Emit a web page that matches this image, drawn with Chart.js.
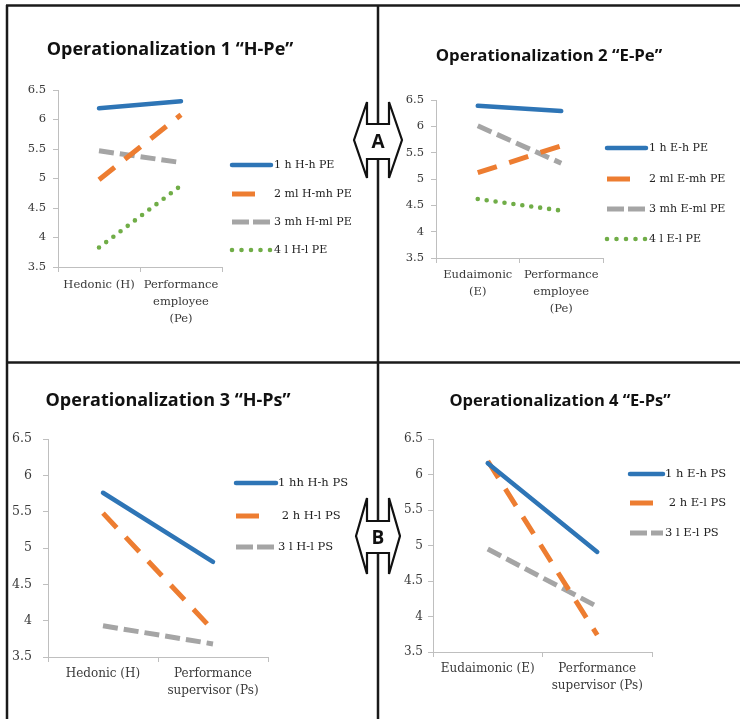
<!DOCTYPE html>
<html><head><meta charset="utf-8">
<script src="https://cdn.jsdelivr.net/npm/chart.js@4.4.1/dist/chart.umd.min.js"></script>
<style>
html,body{margin:0;padding:0;background:#fff;}
#wrap{position:relative;width:740px;height:719px;overflow:hidden;background:#fff;}
canvas{position:absolute;}
svg{position:absolute;left:0;top:0;}
</style></head><body>
<div id="wrap">
<canvas id="c1" width="378" height="362" style="left:0;top:0"></canvas>
<canvas id="c2" width="361" height="362" style="left:379px;top:0"></canvas>
<canvas id="c3" width="378" height="356" style="left:0;top:363px"></canvas>
<canvas id="c4" width="361" height="356" style="left:379px;top:363px"></canvas>
<svg width="740" height="719" xmlns="http://www.w3.org/2000/svg">
  <g stroke="#1a1a1a" stroke-width="2.5" fill="none">
    <line x1="6" y1="5.5" x2="740" y2="5.5"/>
    <line x1="7" y1="5" x2="7" y2="719"/>
    <line x1="378" y1="5" x2="378" y2="719"/>
    <line x1="6" y1="362.5" x2="740" y2="362.5"/>
  </g>
  <g stroke="#111" stroke-width="2.2" fill="#fff" stroke-linejoin="miter">
    <path d="M354,140 L367,102 L367,124 L389,124 L389,102 L402,140 L389,178 L389,159 L367,159 L367,178 Z"/>
    <path d="M356,536 L367,498 L367,521 L389,521 L389,498 L400,536 L389,574 L389,553 L367,553 L367,574 Z"/>
  </g>
  <g font-family="Open Sans, sans-serif" font-weight="bold" font-size="19" fill="#111" text-anchor="middle">
    <text x="378" y="148">A</text>
    <text x="378" y="544">B</text>
  </g>
</svg>
</div>
<script>
// ---------- DATA ----------
const cats1 = ['Hedonic (H)', ['Performance', 'employee', '(Pe)']];
const cats2 = [['Eudaimonic', '(E)'], ['Performance', 'employee', '(Pe)']];
const cats3 = ['Hedonic (H)', ['Performance', 'supervisor (Ps)']];
const cats4 = ['Eudaimonic (E)', ['Performance', 'supervisor (Ps)']];

const titles = ['Operationalization 1 \u201cH-Pe\u201d', 'Operationalization 2 \u201cE-Pe\u201d',
                'Operationalization 3 \u201cH-Ps\u201d', 'Operationalization 4 \u201cE-Ps\u201d'];

const yTicks = [3.5, 4, 4.5, 5, 5.5, 6, 6.5];

const labels1 = ['1 h H-h PE', '2 ml H-mh PE', '3 mh H-ml PE', '4 l H-l PE'];
const p1s1 = [6.19, 6.31];
const p1s2 = [4.98, 6.08];
const p1s3 = [5.47, 5.27];
const p1s4 = [3.83, 4.88];

const labels2 = ['1 h E-h PE', '2 ml E-mh PE', '3 mh E-ml PE', '4 l E-l PE'];
const p2s1 = [6.39, 6.29];
const p2s2 = [5.12, 5.63];
const p2s3 = [6.01, 5.30];
const p2s4 = [4.62, 4.40];

const labels3 = ['1 hh H-h PS', ' 2 h H-l PS', '3 l H-l PS'];
const p3s1 = [5.76, 4.81];
const p3s2 = [5.48, 3.87];
const p3s3 = [3.93, 3.68];

const labels4 = ['1 h E-h PS', ' 2 h E-l PS', '3 l E-l PS'];
const p4s1 = [6.16, 4.91];
const p4s2 = [6.19, 3.74];
const p4s3 = [4.95, 4.14];

// ---------- STYLES ----------
const BLUE = '#2E75B6', ORANGE = '#ED7D31', GRAY = '#A5A5A5', GREEN = '#70AD47';
const styles = [
  {borderColor: BLUE, borderWidth: 4.5, borderDash: [], borderCapStyle: 'round', legendDash: []},
  {borderColor: ORANGE, borderWidth: 5, borderDash: [20, 13], borderCapStyle: 'butt', legendDash: [23, 40]},
  {borderColor: GRAY, borderWidth: 5, borderDash: [15, 6], borderCapStyle: 'butt', legendDash: [17, 4]},
  {borderColor: GREEN, borderWidth: 4.6, borderDash: [0, 9], borderCapStyle: 'round', legendDash: [0, 9.5]}
];

function makeDatasets(labels, series) {
  return series.map((d, i) => Object.assign({
    label: labels[i], data: d, pointRadius: 0, pointHoverRadius: 0, fill: false, tension: 0
  }, styles[i]));
}

const sideLegend = {
  id: 'sideLegend',
  afterDraw(chart, args, o) {
    const ctx = chart.ctx;
    chart.data.datasets.forEach((ds, i) => {
      const y = o.ys[i];
      ctx.save();
      ctx.strokeStyle = ds.borderColor;
      ctx.lineWidth = ds.borderWidth;
      ctx.lineCap = ds.borderCapStyle;
      ctx.setLineDash(ds.legendDash || []);
      ctx.beginPath();
      ctx.moveTo(o.x, y);
      ctx.lineTo(o.x + o.w, y);
      ctx.stroke();
      ctx.setLineDash([]);
      ctx.fillStyle = '#222';
      ctx.font = o.font;
      ctx.textBaseline = 'middle';
      ctx.textAlign = 'left';
      ctx.fillText(ds.label, o.tx, y + 0.5);
      ctx.restore();
    });
  }
};

const panelTitle = {
  id: 'panelTitle',
  afterDraw(chart, args, o) {
    const ctx = chart.ctx;
    ctx.save();
    ctx.fillStyle = '#111';
    ctx.font = 'bold ' + o.size + 'px "Open Sans", sans-serif';
    ctx.textAlign = 'center';
    ctx.textBaseline = 'middle';
    ctx.fillText(o.text, o.x, o.y);
    ctx.restore();
  }
};

function makeChart(id, cats, datasets, cfg) {
  const axisCol = '#BFBFBF';
  const txtCol = '#3a3a3a';
  new Chart(document.getElementById(id), {
    type: 'line',
    data: {labels: cats, datasets: datasets},
    plugins: [sideLegend, panelTitle],
    options: {
      responsive: false,
      animation: false,
      events: [],
      layout: {padding: cfg.pad},
      plugins: {
        legend: {display: false},
        title: {display: false},
        tooltip: {enabled: false},
        sideLegend: cfg.legend,
        panelTitle: cfg.title
      },
      scales: {
        x: {
          type: 'category',
          offset: true,
          afterFit(s) { s.height = cfg.xH; },
          grid: {display: true, drawOnChartArea: false, offset: true, tickLength: 5, color: axisCol},
          border: {display: true, color: axisCol, width: 1},
          ticks: {
            maxRotation: 0, autoSkip: false, padding: cfg.xPad, color: txtCol,
            font: {family: 'DejaVu Serif', size: cfg.xFont, lineHeight: cfg.xLH}
          }
        },
        y: {
          min: 3.5, max: 6.5,
          afterFit(s) { s.width = cfg.yW; },
          afterBuildTicks(s) { s.ticks = yTicks.map(v => ({value: v})); },
          grid: {display: true, drawOnChartArea: false, tickLength: 5, color: axisCol},
          border: {display: true, color: axisCol, width: 1},
          ticks: {
            padding: cfg.yPad, color: txtCol,
            font: {family: 'DejaVu Serif', size: cfg.yFont},
            callback: v => String(v)
          }
        }
      }
    }
  });
}

const legFont = '11px "DejaVu Serif"';

makeChart('c1', cats1, makeDatasets(labels1, [p1s1, p1s2, p1s3, p1s4]), {
  pad: {left: 8, right: 156, top: 90, bottom: 25}, xH: 70, yW: 50, xPad: 4, yPad: 7,
  xFont: 11.5, xLH: 1.5, yFont: 11.5,
  legend: {x: 232, w: 39, tx: 274, ys: [165, 194, 222, 250], font: legFont},
  title: {text: titles[0], x: 170, y: 50, size: 18}
});

makeChart('c2', cats2, makeDatasets(labels2, [p2s1, p2s2, p2s3, p2s4]), {
  pad: {left: 7, right: 137, top: 100, bottom: 34}, xH: 70, yW: 50, xPad: 4, yPad: 7,
  xFont: 11.5, xLH: 1.45, yFont: 11.5,
  legend: {x: 228, w: 39, tx: 270, ys: [148, 179, 209, 239], font: legFont},
  title: {text: titles[1], x: 170, y: 56, size: 16.8}
});

makeChart('c3', cats3, makeDatasets(labels3, [p3s1, p3s2, p3s3]), {
  pad: {left: 8, right: 110, top: 76, bottom: 12}, xH: 50, yW: 40, xPad: 3, yPad: 11,
  xFont: 12, xLH: 1.45, yFont: 12.5,
  legend: {x: 236, w: 40, tx: 278, ys: [120, 153, 184], font: '11.5px "DejaVu Serif"'},
  title: {text: titles[2], x: 168, y: 38, size: 18}
});

makeChart('c4', cats4, makeDatasets(labels4, [p4s1, p4s2, p4s3]), {
  pad: {left: 8, right: 88, top: 76, bottom: 12}, xH: 55, yW: 46, xPad: 3, yPad: 5,
  xFont: 12, xLH: 1.45, yFont: 12,
  legend: {x: 251, w: 33, tx: 286, ys: [111, 140, 170], font: '11.5px "DejaVu Serif"'},
  title: {text: titles[3], x: 181, y: 38, size: 16.5}
});
</script>
</body></html>
